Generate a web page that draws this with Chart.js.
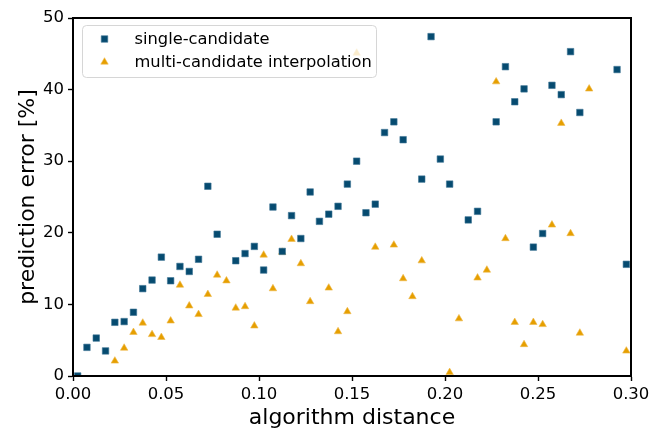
<!DOCTYPE html>
<html>
<head>
<meta charset="utf-8">
<script src="https://cdn.jsdelivr.net/npm/chart.js@4/dist/chart.umd.min.js"></script>
<style>
html,body{margin:0;padding:0;background:#fff;}
#wrap{width:664px;height:429px;}
</style>
</head>
<body>
<div id="wrap"><canvas id="c" width="664" height="429"></canvas></div>
<script>
// Data
const singleX = [0.0025,0.0075,0.0125,0.0175,0.0225,0.0275,0.0325,0.0375,0.0425,0.0475,0.0525,0.0575,0.0625,0.0675,0.0725,0.0775,0.0875,0.0925,0.0975,0.1025,0.1075,0.1125,0.1175,0.1225,0.1275,0.1325,0.1375,0.1425,0.1475,0.1525,0.1575,0.1625,0.1675,0.1725,0.1775,0.1875,0.1925,0.1975,0.2025,0.2125,0.2175,0.2275,0.2325,0.2375,0.2425,0.2475,0.2525,0.2575,0.2625,0.2675,0.2725,0.2925,0.2975];
const singleY = [0,4.0,5.3,3.5,7.5,7.6,8.9,12.2,13.4,16.6,13.3,15.3,14.6,16.3,26.5,19.8,16.1,17.1,18.1,14.8,23.6,17.4,22.4,19.2,25.7,21.6,22.6,23.7,26.8,30.0,22.8,24.0,34.0,35.5,33.0,27.5,47.4,30.3,26.8,21.8,23.0,35.5,43.2,38.3,40.1,18.0,19.9,40.6,39.3,45.3,36.8,42.8,15.6];
const multiX = [0.0225,0.0275,0.0325,0.0375,0.0425,0.0475,0.0525,0.0575,0.0625,0.0675,0.0725,0.0775,0.0825,0.0875,0.0925,0.0975,0.1025,0.1075,0.1125,0.1175,0.1225,0.1275,0.1375,0.1425,0.1475,0.1525,0.1625,0.1725,0.1775,0.1825,0.1875,0.2025,0.2075,0.2175,0.2225,0.2275,0.2325,0.2375,0.2425,0.2475,0.2525,0.2575,0.2625,0.2675,0.2725,0.2775,0.2975];
const multiY = [2.1,3.9,6.1,7.4,5.8,5.4,7.7,12.7,9.8,8.6,11.4,14.1,13.3,9.5,9.7,7.0,16.9,12.2,17.3,19.1,15.7,10.4,12.3,6.2,9.0,45.1,18.0,18.3,13.6,11.1,16.1,0.5,8.0,13.7,14.8,41.1,19.2,7.5,4.4,7.5,7.2,21.1,35.3,19.9,6.0,40.1,3.5];
const xTicks = [0,0.05,0.10,0.15,0.20,0.25,0.30];
const yTicks = [0,10,20,30,40,50];
const labels = ['single-candidate','multi-candidate interpolation'];

const blue = '#064b70';
const orange = '#e69f00';
const FONT = 'DejaVu Sans';

const toPts = (xs, ys) => xs.map((x, i) => ({x: x, y: ys[i]}));

const framePlugin = {
  id: 'frame',
  afterDatasetsDraw(chart) {
    const {ctx, chartArea: a} = chart;
    // legend inside the plot, upper left
    ctx.save();
    const lx = a.left + 9.5, ly = a.top + 7.5, lw = 294, lh = 52, r = 4;
    ctx.beginPath();
    ctx.moveTo(lx + r, ly);
    ctx.arcTo(lx + lw, ly, lx + lw, ly + lh, r);
    ctx.arcTo(lx + lw, ly + lh, lx, ly + lh, r);
    ctx.arcTo(lx, ly + lh, lx, ly, r);
    ctx.arcTo(lx, ly, lx + lw, ly, r);
    ctx.closePath();
    ctx.fillStyle = 'rgba(255,255,255,0.8)';
    ctx.fill();
    ctx.strokeStyle = '#d6d6d6';
    ctx.lineWidth = 1;
    ctx.stroke();
    chart.data.datasets.forEach((ds, i) => {
      const cy = ly + 13.5 + i * 23;
      const cx = lx + 22;
      ctx.fillStyle = ds.backgroundColor;
      ctx.strokeStyle = ds.borderColor;
      ctx.lineWidth = ds.borderWidth;
      Chart.helpers.drawPoint(ctx, {pointStyle: ds.pointStyle, radius: ds.pointRadius, borderWidth: ds.borderWidth, rotation: 0}, cx, cy);
      ctx.fillStyle = '#000';
      ctx.font = '16.3px "' + FONT + '"';
      ctx.textBaseline = 'middle';
      ctx.textAlign = 'left';
      ctx.fillText(ds.label, lx + 52, cy + 1);
    });
    ctx.restore();
    // four spines
    ctx.save();
    ctx.strokeStyle = '#000';
    ctx.lineWidth = 2;
    ctx.strokeRect(a.left, a.top, a.right - a.left, a.bottom - a.top);
    ctx.restore();
  }
};

new Chart(document.getElementById('c'), {
  type: 'scatter',
  data: {
    datasets: [
      {label: labels[0], data: toPts(singleX, singleY), pointStyle: 'rect', pointRadius: 4.6, pointHoverRadius: 4.6,
       backgroundColor: blue, borderColor: '#3f7595', borderWidth: 0.6, clip: 0},
      {label: labels[1], data: toPts(multiX, multiY), pointStyle: 'triangle', pointRadius: 4.3, pointHoverRadius: 4.3,
       backgroundColor: orange, borderColor: '#eeb84a', borderWidth: 0.6, clip: 0}
    ]
  },
  options: {
    responsive: false,
    animation: false,
    devicePixelRatio: 1,
    layout: {padding: {left: 0, top: 18, right: 33, bottom: 0}},
    plugins: {legend: {display: false}, tooltip: {enabled: false}},
    scales: {
      x: {
        type: 'linear', min: 0, max: 0.3,
        afterBuildTicks: s => { s.ticks = xTicks.map(v => ({value: v})); },
        afterFit: s => { s.height = 53; },
        ticks: {color: '#000', font: {family: FONT, size: 16.5, lineHeight: 1.0}, padding: 5, maxRotation: 0, autoSkip: false,
                callback: v => Number(v).toFixed(2)},
        grid: {drawOnChartArea: false, drawTicks: true, tickLength: 5, tickColor: '#000', tickWidth: 1.4},
        border: {display: true, color: '#000', width: 2},
        title: {display: true, text: 'algorithm distance', color: '#000', font: {family: FONT, size: 22, lineHeight: 1.0}, padding: {top: 0, bottom: 0}}
      },
      y: {
        type: 'linear', min: 0, max: 50,
        afterBuildTicks: s => { s.ticks = yTicks.map(v => ({value: v})); },
        afterFit: s => { s.width = 73; },
        ticks: {color: '#000', font: {family: FONT, size: 16.5}, padding: 4, autoSkip: false,
                callback: v => String(v)},
        grid: {drawOnChartArea: false, drawTicks: true, tickLength: 5, tickColor: '#000', tickWidth: 1.4},
        border: {display: true, color: '#000', width: 2},
        title: {display: true, text: 'prediction error [%]', color: '#000', font: {family: FONT, size: 22, lineHeight: 1.0}, padding: {top: 17, bottom: 0}}
      }
    }
  },
  plugins: [framePlugin]
});
</script>
</body>
</html>
